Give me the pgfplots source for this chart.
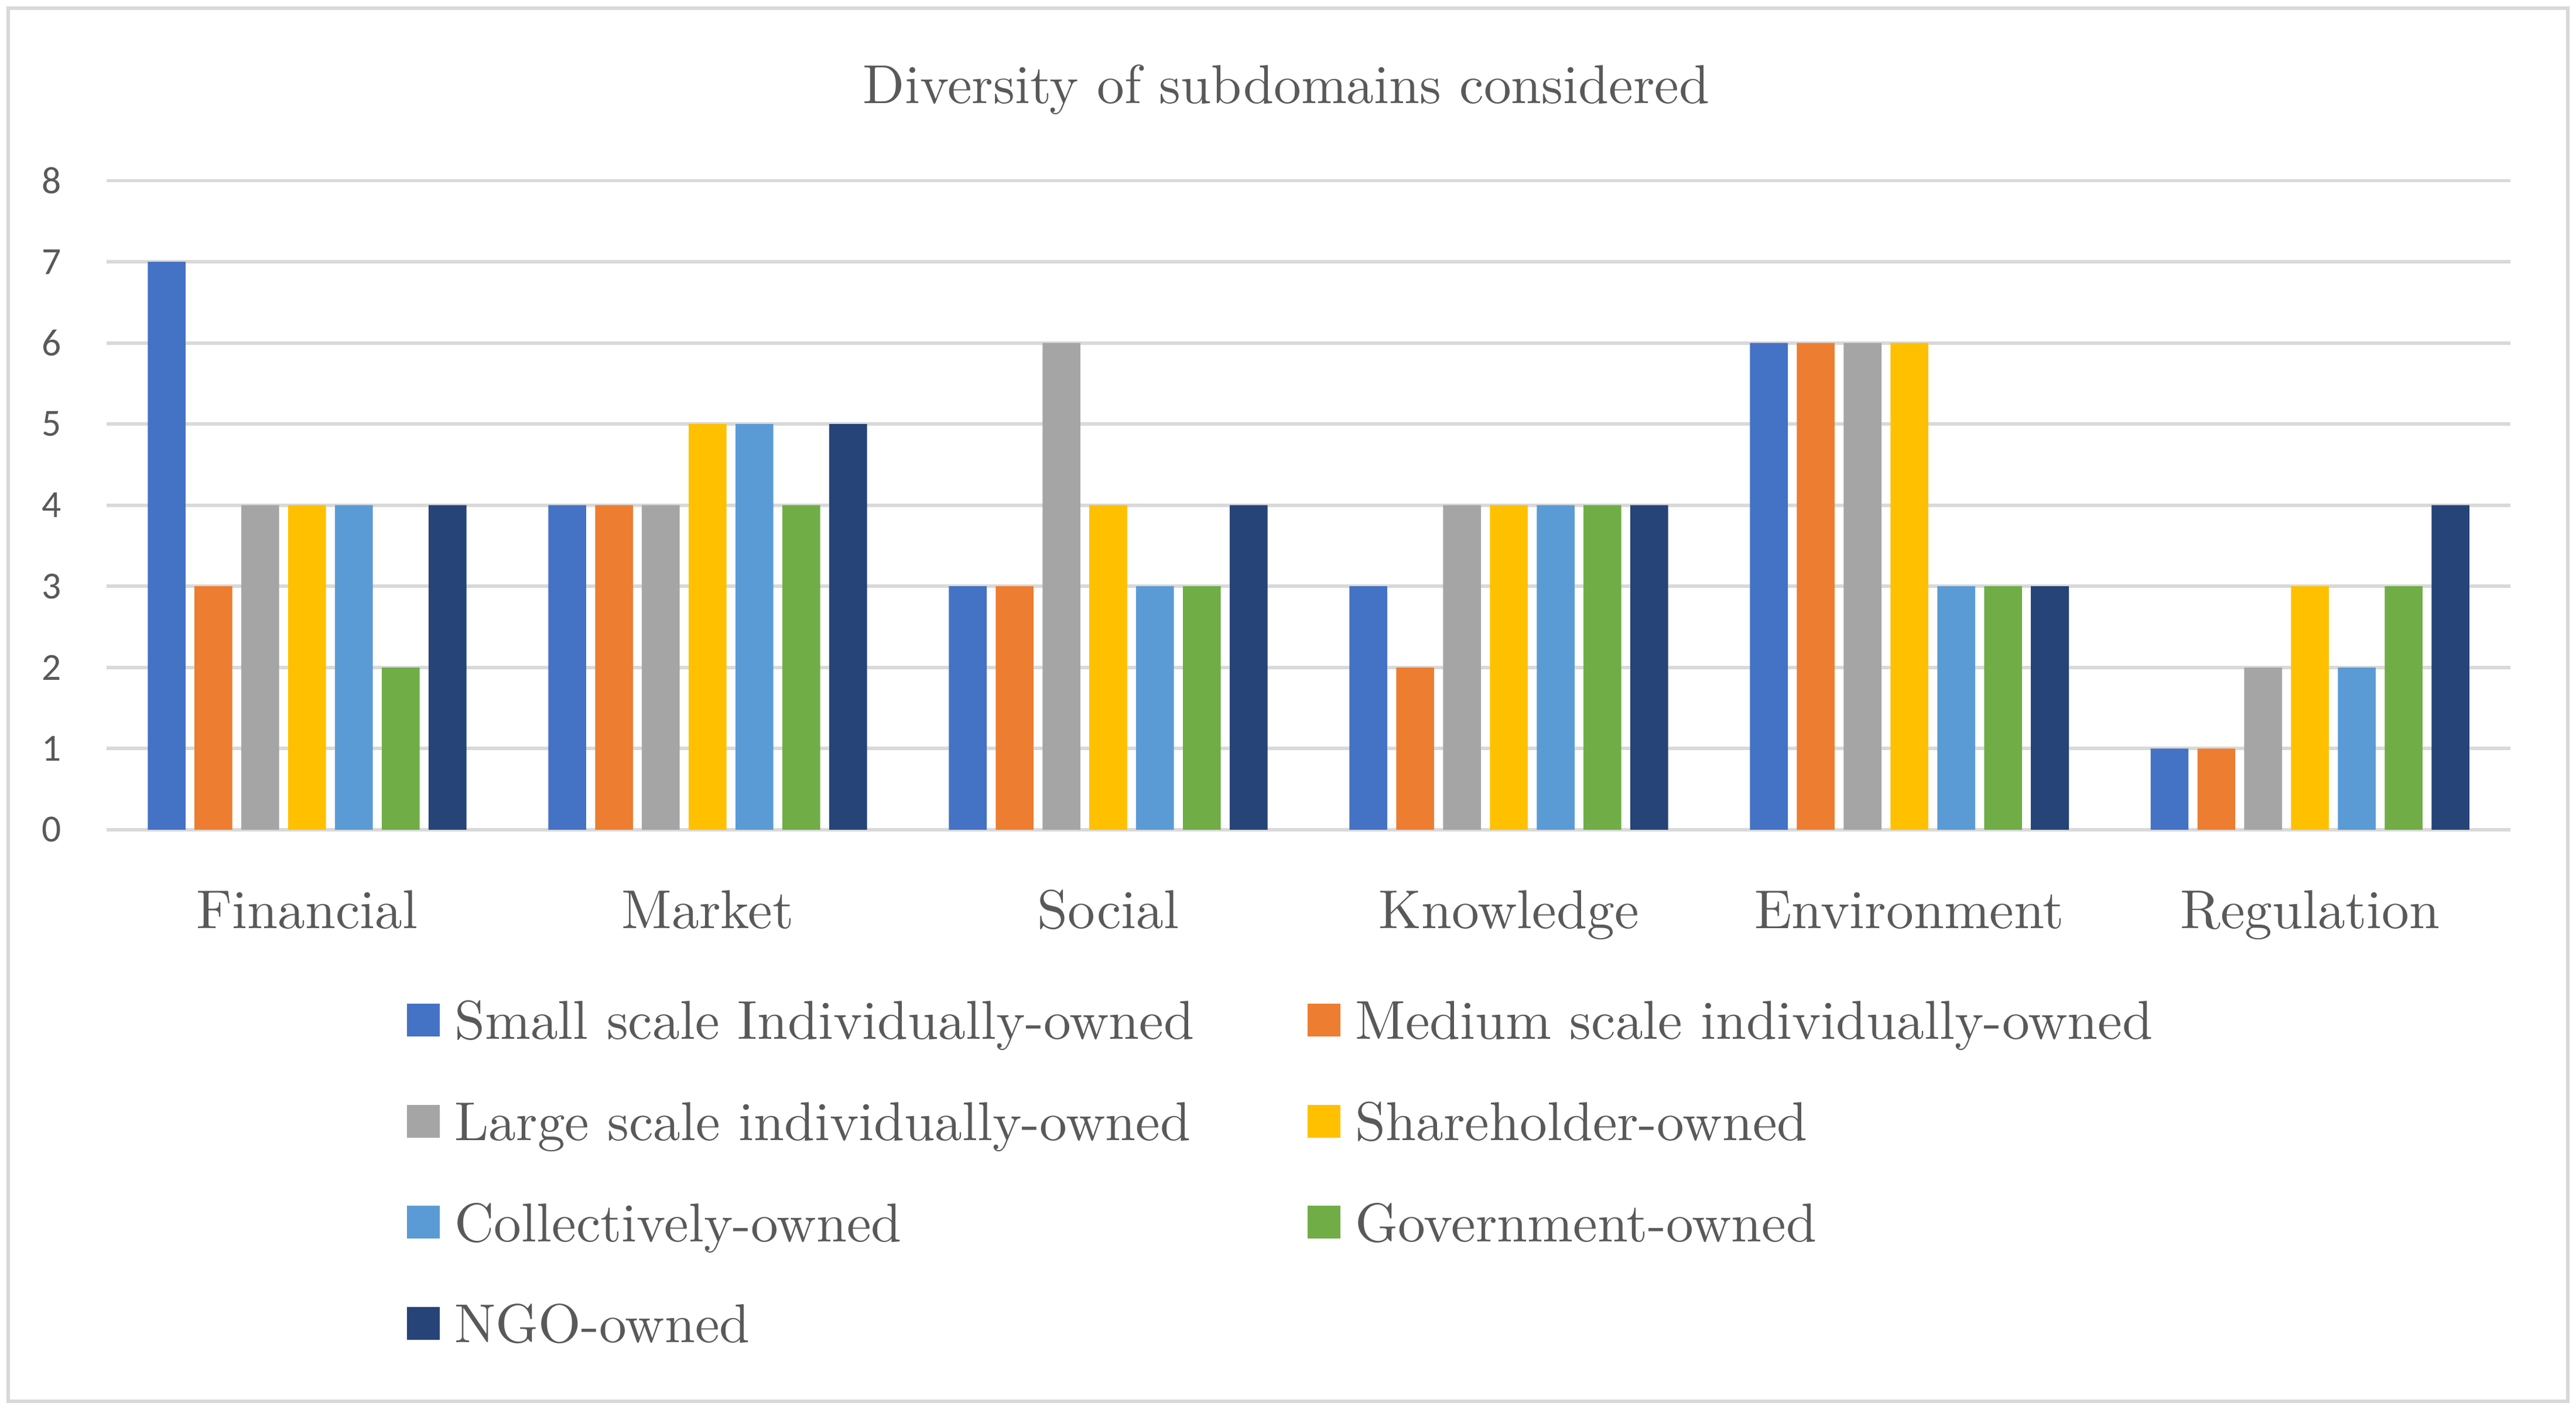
\documentclass[border=0pt]{standalone}
\usepackage{fontspec}
\usepackage{pgfplots}
\pgfplotsset{compat=1.18}
\newfontfamily\carlito{Carlito}
\definecolor{txt}{HTML}{595959}
\definecolor{gridc}{HTML}{D9D9D9}
\definecolor{c1}{HTML}{4472C4}
\definecolor{c2}{HTML}{ED7D31}
\definecolor{c3}{HTML}{A5A5A5}
\definecolor{c4}{HTML}{FFC000}
\definecolor{c5}{HTML}{5B9BD5}
\definecolor{c6}{HTML}{70AD47}
\definecolor{c7}{HTML}{264478}
\begin{document}
\begin{tikzpicture}
\begin{scope}[x=0.3pt,y=0.3pt]
  \path (-65,-355) rectangle (1503,505);
  \draw[gridc, line width=0.6pt] (-60,-348) rectangle (1498,500);
  \node[anchor=base, text=txt, font=\fontsize{10}{12}\selectfont] at (718,442) {Diversity of subdomains considered};
\end{scope}
\begin{axis}[
  scale only axis,
  width=438.9pt, height=118.5pt,
  ybar=1.65pt, bar width=6.9pt,
  xmin=-0.5, xmax=5.5, ymin=0, ymax=8,
  xtick={0,1,2,3,4,5},
  xticklabels={Financial,Market,Social,Knowledge,Environment,Regulation},
  ytick={0,1,...,8},
  major tick length=0pt,
  axis line style={draw=none},
  ymajorgrids,
  major grid style={draw=gridc, line width=0.6pt},
  /pgf/number format/assume math mode=true,
  xticklabel style={anchor=base, yshift=-18pt, text=txt, font=\fontsize{10}{12}\selectfont},
  yticklabel style={xshift=-4.8pt, text=txt, font=\carlito\fontsize{7}{8}\selectfont},
  legend columns=2,
  legend cell align=left,
  legend style={at={(0.1176,-0.2456)}, anchor=north west, draw=none, text=txt,
    font=\fontsize{10}{12}\selectfont, row sep=9.45pt, column sep=2.7pt,
    nodes={inner sep=0pt, text height=7pt, text depth=2pt},
    /tikz/every even column/.append style={column sep=20.7pt}},
  legend image code/.code={\fill[#1] (0pt,-2pt) rectangle (6pt,4pt);},
]
\addplot[fill=c1, draw=none] coordinates {(0,7) (1,4) (2,3) (3,3) (4,6) (5,1)};
\addplot[fill=c2, draw=none] coordinates {(0,3) (1,4) (2,3) (3,2) (4,6) (5,1)};
\addplot[fill=c3, draw=none] coordinates {(0,4) (1,4) (2,6) (3,4) (4,6) (5,2)};
\addplot[fill=c4, draw=none] coordinates {(0,4) (1,5) (2,4) (3,4) (4,6) (5,3)};
\addplot[fill=c5, draw=none] coordinates {(0,4) (1,5) (2,3) (3,4) (4,3) (5,2)};
\addplot[fill=c6, draw=none] coordinates {(0,2) (1,4) (2,3) (3,4) (4,3) (5,3)};
\addplot[fill=c7, draw=none] coordinates {(0,4) (1,5) (2,4) (3,4) (4,3) (5,4)};
\legend{Small scale Individually-owned, Medium scale individually-owned,
  Large scale individually-owned, Shareholder-owned,
  Collectively-owned, Government-owned, NGO-owned}
\end{axis}
\end{tikzpicture}
\end{document}
